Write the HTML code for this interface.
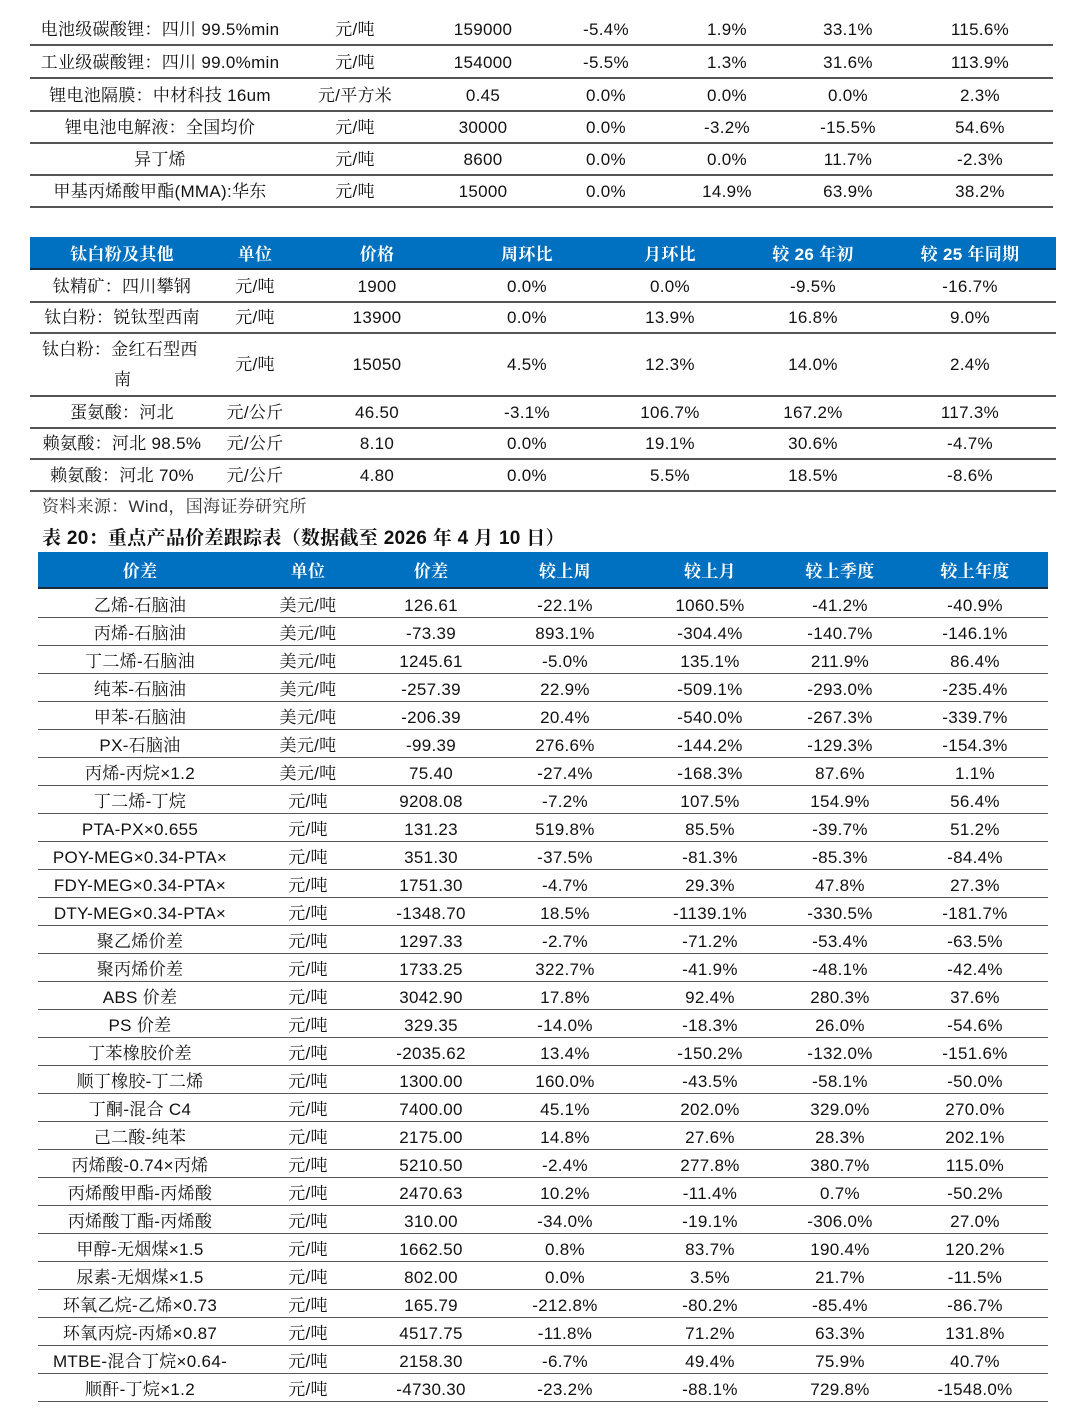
<!DOCTYPE html>
<html><head><meta charset="utf-8">
<style>
html,body{margin:0;padding:0;background:#fff;}
#page{position:relative;width:1080px;height:1408px;overflow:hidden;font-family:"Liberation Sans","Noto Serif CJK SC",serif;color:#111;font-size:17px;}
.c{position:absolute;white-space:nowrap;transform:translate(-50%,-50%);line-height:20px;margin-top:2px;letter-spacing:0.3px;}
.l{position:absolute;white-space:nowrap;transform:translateY(-50%);line-height:20px;margin-top:2px;letter-spacing:0.3px;}
.ln{position:absolute;height:1.5px;background:#555;}
.hd{position:absolute;background:#0070c0;border-bottom:2px solid #1a2a3a;}
.hc{color:#fff;font-weight:bold;}
</style></head>
<body>
<div id="page"></div>
<script>
const t1Names=["电池级碳酸锂：四川 99.5%min","工业级碳酸锂：四川 99.0%min","锂电池隔膜：中材科技 16um","锂电池电解液：全国均价","异丁烯","甲基丙烯酸甲酯(MMA):华东"];
const t1Units=["元/吨","元/吨","元/平方米","元/吨","元/吨","元/吨"];
const t1Price=["159000","154000","0.45","30000","8600","15000"];
const t1W=["-5.4%","-5.5%","0.0%","0.0%","0.0%","0.0%"];
const t1M=["1.9%","1.3%","0.0%","-3.2%","0.0%","14.9%"];
const t1Y=["33.1%","31.6%","0.0%","-15.5%","11.7%","63.9%"];
const t1YY=["115.6%","113.9%","2.3%","54.6%","-2.3%","38.2%"];

const t2Head=["钛白粉及其他","单位","价格","周环比","月环比","较 26 年初","较 25 年同期"];
const t2Names=["钛精矿：四川攀钢","钛白粉：锐钛型西南","钛白粉：金红石型西\n南","蛋氨酸：河北","赖氨酸：河北 98.5%","赖氨酸：河北 70%"];
const t2Units=["元/吨","元/吨","元/吨","元/公斤","元/公斤","元/公斤"];
const t2Price=["1900","13900","15050","46.50","8.10","4.80"];
const t2W=["0.0%","0.0%","4.5%","-3.1%","0.0%","0.0%"];
const t2M=["0.0%","13.9%","12.3%","106.7%","19.1%","5.5%"];
const t2Y=["-9.5%","16.8%","14.0%","167.2%","30.6%","18.5%"];
const t2YY=["-16.7%","9.0%","2.4%","117.3%","-4.7%","-8.6%"];

const t3Head=["价差","单位","价差","较上周","较上月","较上季度","较上年度"];
const t3Names=["乙烯-石脑油","丙烯-石脑油","丁二烯-石脑油","纯苯-石脑油","甲苯-石脑油","PX-石脑油","丙烯-丙烷×1.2","丁二烯-丁烷","PTA-PX×0.655","POY-MEG×0.34-PTA×","FDY-MEG×0.34-PTA×","DTY-MEG×0.34-PTA×","聚乙烯价差","聚丙烯价差","ABS 价差","PS 价差","丁苯橡胶价差","顺丁橡胶-丁二烯","丁酮-混合 C4","己二酸-纯苯","丙烯酸-0.74×丙烯","丙烯酸甲酯-丙烯酸","丙烯酸丁酯-丙烯酸","甲醇-无烟煤×1.5","尿素-无烟煤×1.5","环氧乙烷-乙烯×0.73","环氧丙烷-丙烯×0.87","MTBE-混合丁烷×0.64-","顺酐-丁烷×1.2"];
const t3Units=["美元/吨","美元/吨","美元/吨","美元/吨","美元/吨","美元/吨","美元/吨","元/吨","元/吨","元/吨","元/吨","元/吨","元/吨","元/吨","元/吨","元/吨","元/吨","元/吨","元/吨","元/吨","元/吨","元/吨","元/吨","元/吨","元/吨","元/吨","元/吨","元/吨","元/吨"];
const t3Spread=["126.61","-73.39","1245.61","-257.39","-206.39","-99.39","75.40","9208.08","131.23","351.30","1751.30","-1348.70","1297.33","1733.25","3042.90","329.35","-2035.62","1300.00","7400.00","2175.00","5210.50","2470.63","310.00","1662.50","802.00","165.79","4517.75","2158.30","-4730.30"];
const t3W=["-22.1%","893.1%","-5.0%","22.9%","20.4%","276.6%","-27.4%","-7.2%","519.8%","-37.5%","-4.7%","18.5%","-2.7%","322.7%","17.8%","-14.0%","13.4%","160.0%","45.1%","14.8%","-2.4%","10.2%","-34.0%","0.8%","0.0%","-212.8%","-11.8%","-6.7%","-23.2%"];
const t3M=["1060.5%","-304.4%","135.1%","-509.1%","-540.0%","-144.2%","-168.3%","107.5%","85.5%","-81.3%","29.3%","-1139.1%","-71.2%","-41.9%","92.4%","-18.3%","-150.2%","-43.5%","202.0%","27.6%","277.8%","-11.4%","-19.1%","83.7%","3.5%","-80.2%","71.2%","49.4%","-88.1%"];
const t3Q=["-41.2%","-140.7%","211.9%","-293.0%","-267.3%","-129.3%","87.6%","154.9%","-39.7%","-85.3%","47.8%","-330.5%","-53.4%","-48.1%","280.3%","26.0%","-132.0%","-58.1%","329.0%","28.3%","380.7%","0.7%","-306.0%","190.4%","21.7%","-85.4%","63.3%","75.9%","729.8%"];
const t3Yr=["-40.9%","-146.1%","86.4%","-235.4%","-339.7%","-154.3%","1.1%","56.4%","51.2%","-84.4%","27.3%","-181.7%","-63.5%","-42.4%","37.6%","-54.6%","-151.6%","-50.0%","270.0%","202.1%","115.0%","-50.2%","27.0%","120.2%","-11.5%","-86.7%","131.8%","40.7%","-1548.0%"];

const page=document.getElementById('page');
function txt(cls,x,y,s,extra){
  const d=document.createElement('div');
  d.className=cls;d.style.left=x+'px';d.style.top=y+'px';
  if(extra)d.style.cssText+=extra;
  d.textContent=s;
  
  
  page.appendChild(d);return d;
}
function line(x1,x2,y,name){
  const d=document.createElement('div');
  d.className='ln';d.style.left=x1+'px';d.style.width=(x2-x1)+'px';d.style.top=y+'px';
  
  
  page.appendChild(d);
}
function head(x1,x2,y1,y2,name){
  const d=document.createElement('div');
  d.className='hd';d.style.left=x1+'px';d.style.width=(x2-x1)+'px';d.style.top=y1+'px';d.style.height=(y2-y1-2)+'px';
  
  
  page.appendChild(d);
}
const t1x=[160,355,483,606,727,848,980];
const t1y=[28,61,94,126,158,190];
t1Names.forEach((n,i)=>{
  const cols=[n,t1Units[i],t1Price[i],t1W[i],t1M[i],t1Y[i],t1YY[i]];
  cols.forEach((s,j)=>txt('c',t1x[j],t1y[i],s));
  line(30,1053,t1y[i]+16);
});
head(30,1056,237,270,'table2-header');
const t2x=[122,255,377,527,670,813,970];
t2Head.forEach((s,j)=>{const e=txt('c hc',t2x[j],253,s);});
const t2y=[285,316,363,411,442,474];
const t2line=[301,332,395,427,458,490];
t2Names.forEach((n,i)=>{
  if(n.indexOf('\n')>=0){
    txt('l',42,348,n.split('\n')[0]);txt('l',114,378,n.split('\n')[1]);
  } else txt('c',t2x[0],t2y[i],n);
  [t2Units[i],t2Price[i],t2W[i],t2M[i],t2Y[i],t2YY[i]].forEach((s,j)=>txt('c',t2x[j+1],t2y[i],s));
  line(30,1056,t2line[i]);
});
txt('l',42,505,'资料来源：Wind，国海证券研究所','color:#333;');
txt('l',42,537,'表 20：重点产品价差跟踪表（数据截至 2026 年 4 月 10 日）','font-weight:bold;font-size:19px;');
head(38,1048,552,589,'table3-header');
const t3x=[140,308,431,565,710,840,975];
t3Head.forEach((s,j)=>{const e=txt('c hc',t3x[j],570,s);});
const r0=604,dr=(1388-604)/28;
t3Names.forEach((n,i)=>{
  const y=r0+i*dr;
  [n,t3Units[i],t3Spread[i],t3W[i],t3M[i],t3Q[i],t3Yr[i]].forEach((s,j)=>txt('c',t3x[j],y,s));
  line(38,1048,y+12.5);
});
</script>
</body></html>
